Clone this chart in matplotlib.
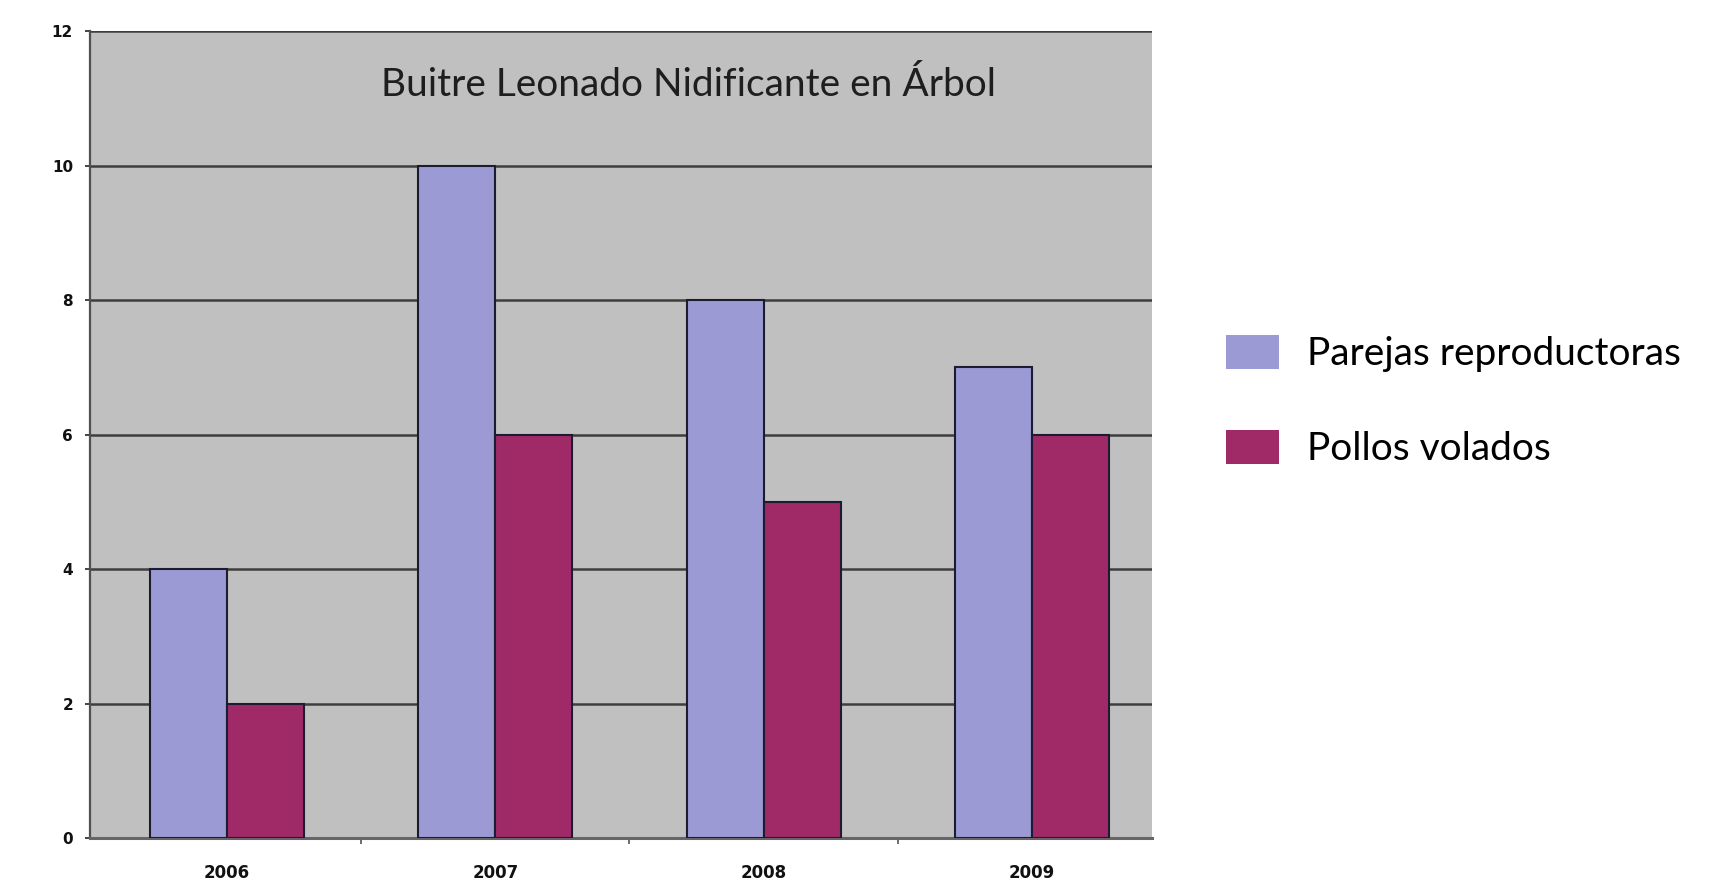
"""Griffon vulture tree-nesting pairs and fledged chicks per year."""

import matplotlib

matplotlib.use("Agg")
import matplotlib.pyplot as plt
import numpy as np
from matplotlib.patches import Patch

years = ["2006", "2007", "2008", "2009"]
parejas = [4, 10, 8, 7]
pollos = [2, 6, 5, 6]
series_labels = ["Parejas reproductoras", "Pollos volados"]
title = "Buitre Leonado Nidificante en Árbol"

PURPLE = "#9c9ad4"
MAGENTA = "#a02a68"
PLOT_BG = "#c0c0c0"
GRID = "#3e3e3e"
EDGE = "#1c1c30"

W, H = 1720, 881
fig = plt.figure(figsize=(W / 100, H / 100), dpi=100)
# plot area in pixel terms: x 90..1152, y 31..838
ax = fig.add_axes([90 / W, 1 - 838 / H, (1152 - 90) / W, (838 - 31) / H])
ax.set_facecolor(PLOT_BG)

x = np.arange(len(years))
width = 0.287
ax.bar(x - width / 2, parejas, width, color=PURPLE, edgecolor=EDGE, linewidth=1.5, zorder=3)
ax.bar(x + width / 2, pollos, width, color=MAGENTA, edgecolor=EDGE, linewidth=1.5, zorder=3)

# groups sit slightly right of centre in the plot area
ax.set_xlim(-0.511, 3.448)
ax.set_ylim(0, 12)
ax.set_yticks(range(0, 13, 2))
ax.yaxis.grid(True, color=GRID, linewidth=1.8, zorder=1)
ax.set_axisbelow(True)

ax.set_xticks(x)
ax.set_xticklabels(years)
ax.set_xticks(np.arange(0.5, len(years) - 0.5, 1), minor=True)
ax.tick_params(axis="x", which="major", length=0, pad=19)
ax.tick_params(axis="x", which="minor", length=4, width=1.2, color="#555555")
ax.tick_params(axis="y", length=3.6, width=1.4, color="#444444", pad=8.6)
for lbl in ax.get_yticklabels():
    lbl.set_fontfamily("DejaVu Sans")
    lbl.set_fontweight("bold")
    lbl.set_fontsize(11)
    lbl.set_color("#111111")
for lbl in ax.get_xticklabels():
    lbl.set_fontfamily("DejaVu Sans")
    lbl.set_fontweight("bold")
    lbl.set_fontsize(12)
    lbl.set_color("#111111")

for side in ("top", "right"):
    ax.spines[side].set_visible(False)
ax.spines["left"].set_color("#505050")
ax.spines["left"].set_linewidth(1.6)
ax.spines["bottom"].set_color("#666666")
ax.spines["bottom"].set_linewidth(2.2)

ax.text(0.564, 0.933, title, transform=ax.transAxes, ha="center", va="center",
        fontsize=28, fontfamily="Lato", color="#1e1e1e")

handles = [Patch(facecolor=PURPLE, edgecolor="none"), Patch(facecolor=MAGENTA, edgecolor="none")]
fig.legend(handles, series_labels, loc="center left", bbox_to_anchor=(1191 / W, 1 - 401 / H),
           frameon=False, prop={"family": "Lato", "size": 28},
           handlelength=1.36, handleheight=0.98, handletextpad=0.72, labelspacing=1.47)

fig.savefig("out.png", dpi=100, facecolor="white")
